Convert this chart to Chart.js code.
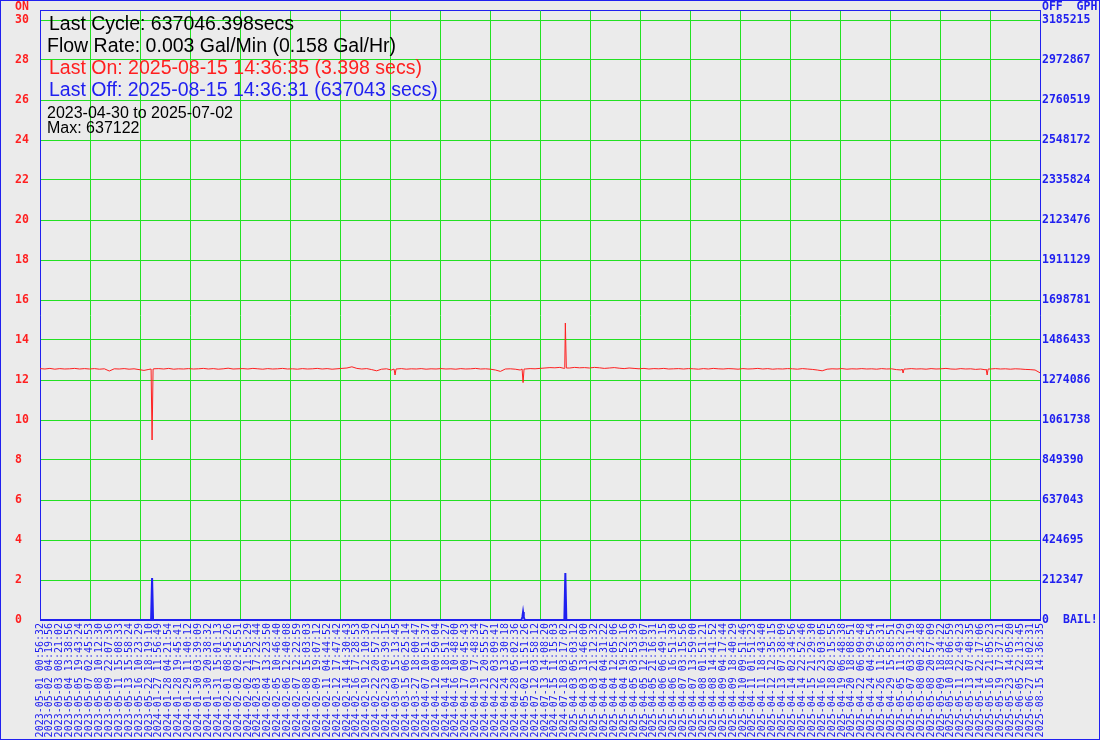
<!DOCTYPE html>
<html>
<head>
<meta charset="utf-8">
<title>Cycle chart</title>
<script src="https://cdn.jsdelivr.net/npm/chart.js@4.4.1/dist/chart.umd.min.js"></script>
<style>
    html, body { margin: 0; padding: 0; background: #ebebeb; }
    canvas { display: block; }
</style>
</head>
<body>
<canvas id="cycleChart" width="1100" height="740"></canvas>
<script>
// x tick labels, one per sample slot
const timeLabels = [
    '2023-05-01 00:56:32', '2023-05-02 04:19:56', '2023-05-03 08:21:02', '2023-05-04 13:38:56',
    '2023-05-05 19:43:24', '2023-05-07 02:45:53', '2023-05-08 10:12:30', '2023-05-09 22:07:36',
    '2023-05-11 15:08:33', '2023-05-13 15:58:24', '2023-05-16 10:23:29', '2023-05-22 18:19:10',
    '2024-01-27 11:56:49', '2024-01-28 04:21:54', '2024-01-28 19:45:41', '2024-01-29 11:40:12',
    '2024-01-30 03:39:09', '2024-01-30 20:38:32', '2024-01-31 15:01:13', '2024-02-01 08:45:26',
    '2024-02-02 02:45:51', '2024-02-02 21:55:29', '2024-02-03 17:22:44', '2024-02-04 13:23:50',
    '2024-02-05 10:46:40', '2024-02-06 12:40:08', '2024-02-07 12:22:59', '2024-02-08 15:03:03',
    '2024-02-09 19:07:12', '2024-02-11 04:44:52', '2024-02-12 17:47:42', '2024-02-14 14:30:43',
    '2024-02-16 17:28:53', '2024-02-19 12:10:30', '2024-02-22 20:57:12', '2024-02-23 09:39:15',
    '2024-03-09 15:13:45', '2024-03-15 06:25:14', '2024-03-27 18:00:47', '2024-04-07 10:51:37',
    '2024-04-12 00:50:04', '2024-04-14 18:51:27', '2024-04-16 10:48:00', '2024-04-17 00:45:43',
    '2024-04-19 17:48:34', '2024-04-21 20:55:57', '2024-04-22 03:09:41', '2024-04-24 13:30:18',
    '2024-04-28 05:02:36', '2024-05-02 11:51:26', '2024-07-12 03:58:12', '2024-07-13 14:08:20',
    '2024-07-15 11:15:03', '2024-07-18 03:17:02', '2025-04-03 05:03:12', '2025-04-03 13:46:00',
    '2025-04-03 21:12:32', '2025-04-04 04:31:22', '2025-04-04 12:05:06', '2025-04-04 19:52:16',
    '2025-04-05 03:53:39', '2025-04-05 12:19:07', '2025-04-05 21:16:31', '2025-04-06 06:49:15',
    '2025-04-06 16:51:30', '2025-04-07 03:15:56', '2025-04-07 13:59:00', '2025-04-08 01:51:21',
    '2025-04-08 14:41:52', '2025-04-09 04:17:44', '2025-04-09 18:40:29', '2025-04-10 09:51:46',
    '2025-04-11 01:51:23', '2025-04-11 18:43:40', '2025-04-12 12:35:15', '2025-04-13 07:38:09',
    '2025-04-14 02:34:56', '2025-04-14 22:52:46', '2025-04-15 21:29:30', '2025-04-16 23:03:05',
    '2025-04-18 02:15:55', '2025-04-19 06:48:38', '2025-04-20 18:08:51', '2025-04-22 06:09:48',
    '2025-04-24 04:39:54', '2025-04-26 11:56:31', '2025-04-29 15:58:51', '2025-05-05 11:53:29',
    '2025-05-07 03:29:19', '2025-05-08 00:23:48', '2025-05-08 20:57:09', '2025-05-09 18:34:22',
    '2025-05-10 18:06:59', '2025-05-11 22:49:23', '2025-05-13 07:40:35', '2025-05-14 22:17:06',
    '2025-05-16 21:05:23', '2025-05-19 17:37:21', '2025-05-23 14:05:20', '2025-06-05 22:13:45',
    '2025-06-27 18:02:31', '2025-08-15 14:36:35'
];

// ON time (secs), sampled every half label slot
const onSecs = [
    12.57, 12.55, 12.58, 12.54, 12.57, 12.55, 12.56, 12.58, 12.55, 12.57,
    12.55, 12.57, 12.54, 12.56, 12.45, 12.56, 12.55, 12.57, 12.54, 12.56,
    12.52, 12.48, 12.53, 12.56, 12.57, 12.55, 12.58, 12.54, 12.56, 12.55,
    12.57, 12.55, 12.56, 12.58, 12.55, 12.57, 12.54, 12.56, 12.59, 12.55,
    12.56, 12.57, 12.55, 12.58, 12.56, 12.54, 12.57, 12.55, 12.56, 12.58,
    12.55, 12.56, 12.54, 12.57, 12.55, 12.56, 12.58, 12.55, 12.57, 12.54,
    12.56, 12.58, 12.60, 12.66, 12.58, 12.55, 12.57, 12.52, 12.46, 12.54,
    12.56, 12.50, 12.55, 12.57, 12.54, 12.56, 12.55, 12.57, 12.54, 12.56,
    12.55, 12.57, 12.55, 12.56, 12.54, 12.57, 12.55, 12.56, 12.58, 12.55,
    12.56, 12.54, 12.50, 12.43, 12.55, 12.56, 12.54, 12.50, 12.55, 12.57,
    12.56, 12.58, 12.60, 12.62, 12.61, 12.63, 12.62, 12.60, 12.63, 12.61,
    12.62, 12.60, 12.63, 12.61, 12.58, 12.60, 12.62, 12.59, 12.57, 12.60,
    12.58, 12.56, 12.58, 12.55, 12.57, 12.56, 12.58, 12.55, 12.56, 12.57,
    12.55, 12.57, 12.56, 12.54, 12.57, 12.55, 12.58, 12.56, 12.55, 12.57,
    12.56, 12.54, 12.57, 12.55, 12.56, 12.58, 12.55, 12.57, 12.54, 12.56,
    12.55, 12.57, 12.56, 12.54, 12.57, 12.55, 12.53, 12.50, 12.46, 12.54,
    12.56, 12.55, 12.57, 12.54, 12.56, 12.55, 12.57, 12.55, 12.56, 12.54,
    12.57, 12.55, 12.56, 12.52, 12.50, 12.55, 12.57, 12.55, 12.56, 12.54,
    12.57, 12.55, 12.56, 12.58, 12.55, 12.54, 12.57, 12.55, 12.56, 12.53,
    12.55, 12.51, 12.55, 12.57, 12.55, 12.56, 12.54, 12.56, 12.55, 12.53,
    12.52, 12.50, 12.36
];

// short ON events (position in label slots, secs)
const onEventPos  = [11.22, 11.32, 11.42, 35.76, 35.86, 35.96, 48.69, 48.79, 48.89, 52.96, 53.06, 53.16, 87.07, 87.17, 87.27, 95.56, 95.66, 95.76];
const onEventSecs = [12.55, 9.0, 12.55, 12.55, 12.25, 12.55, 12.55, 11.87, 12.55, 12.58, 14.85, 12.6, 12.55, 12.35, 12.55, 12.55, 12.25, 12.55];

// OFF time (secs) on the right axis
const offPos  = [0, 11.22, 11.32, 11.42, 48.62, 48.72, 48.79, 48.86, 48.96, 52.96, 53.06, 53.16, 101];
const offSecs = [0, 0, 222965, 0, 0, 16000, 42500, 16000, 0, 0, 249508, 0, 0];

const onTicks = [0, 2, 4, 6, 8, 10, 12, 14, 16, 18, 20, 22, 24, 26, 28, 30];
const offTicks = [0, 212347, 424695, 637043, 849390, 1061738, 1274086, 1486433, 1698781,
    1911129, 2123476, 2335824, 2548172, 2760519, 2972867, 3185215];

const infoLines = [
    { text: 'Last Cycle: 637046.398secs', color: '#000000', big: true },
    { text: 'Flow Rate: 0.003 Gal/Min (0.158 Gal/Hr)', color: '#000000', big: true },
    { text: 'Last On: 2025-08-15 14:36:35 (3.398 secs)', color: '#ff2020', big: true },
    { text: 'Last Off: 2025-08-15 14:36:31 (637043 secs)', color: '#2020f0', big: true },
    { text: '2023-04-30 to 2025-07-02', color: '#000000', big: false },
    { text: 'Max: 637122', color: '#000000', big: false }
];

const RED = '#ff2020';
const BLUE = '#2020f0';
const GREEN = '#22e022';
const MONO_BOLD = 'bold 11.5px "DejaVu Sans Mono"';

function mergePoints(basePos, baseVals, extraPos, extraVals) {
    const pts = basePos.map((x, i) => ({ x: x, y: baseVals[i] }));
    extraPos.forEach((x, i) => pts.push({ x: x, y: extraVals[i] }));
    pts.sort((a, b) => a.x - b.x);
    return pts;
}

const onPoints = mergePoints(onSecs.map((v, i) => i * 0.5), onSecs, onEventPos, onEventSecs);
const offPoints = offPos.map((x, i) => ({ x: x, y: offSecs[i] }));

const decorPlugin = {
    id: 'decor',
    beforeDraw(chart) {
        const ctx = chart.ctx;
        ctx.save();
        ctx.fillStyle = '#ebebeb';
        ctx.fillRect(0, 0, chart.width, chart.height);
        ctx.restore();
    },
    afterDraw(chart) {
        const ctx = chart.ctx;
        const area = chart.chartArea;
        ctx.save();
        // outer frame
        ctx.strokeStyle = BLUE;
        ctx.lineWidth = 1;
        ctx.strokeRect(0.5, 0.5, chart.width - 1, chart.height - 1);

        // axis captions
        ctx.font = MONO_BOLD;
        ctx.textBaseline = 'middle';
        ctx.textAlign = 'left';
        ctx.fillStyle = RED;
        ctx.fillText('ON', 15, 7);
        ctx.fillStyle = BLUE;
        ctx.fillText('OFF  GPH', area.right + 2, 7);
        ctx.fillText('BAIL!', area.right + 23, area.bottom);

        // info text block
        let y = 30;
        infoLines.forEach(function(line, i) {
            ctx.font = line.big ? '19.5px "Liberation Sans"' : '16px "Liberation Sans"';
            ctx.fillStyle = line.color;
            ctx.textBaseline = 'alphabetic';
            ctx.fillText(line.text, i === 1 || !line.big ? 47 : 49, y);
            y += line.big ? 22 : 14.5;
        });
        ctx.restore();
    }
};

const ctx = document.getElementById('cycleChart').getContext('2d');
const cycleChart = new Chart(ctx, {
    type: 'line',
    data: {
        datasets: [
            {
                label: 'ON',
                data: onPoints,
                borderColor: RED,
                borderWidth: 1,
                pointRadius: 0,
                tension: 0,
                xAxisID: 'x',
                yAxisID: 'y'
            },
            {
                label: 'OFF',
                data: offPoints,
                borderColor: BLUE,
                borderWidth: 2,
                pointRadius: 0,
                tension: 0,
                clip: false,
                xAxisID: 'x',
                yAxisID: 'y2'
            }
        ]
    },
    options: {
        responsive: false,
        animation: false,
        devicePixelRatio: 1,
        layout: { padding: { left: 15, top: 10, right: 0, bottom: 0 } },
        plugins: {
            legend: { display: false },
            tooltip: { enabled: false }
        },
        scales: {
            x: {
                type: 'linear',
                position: 'bottom',
                min: 0,
                max: timeLabels.length - 1,
                afterBuildTicks: function(scale) {
                    scale.ticks = timeLabels.map((_, i) => ({ value: i }));
                },
                afterFit: function(scale) { scale.height = 120; },
                grid: { display: false, drawTicks: false },
                border: { display: true, color: BLUE, width: 1 },
                ticks: {
                    autoSkip: false,
                    minRotation: 90,
                    maxRotation: 90,
                    padding: 3,
                    color: BLUE,
                    font: { family: 'DejaVu Sans Mono', size: 10 },
                    callback: function(value) { return timeLabels[value]; }
                }
            },
            x2: {
                type: 'linear',
                position: 'top',
                min: 0,
                max: 20,
                afterFit: function(scale) { scale.height = 0; },
                grid: { color: GREEN, lineWidth: 1, drawTicks: false },
                border: { display: true, color: BLUE, width: 1 },
                ticks: { display: false, stepSize: 1 }
            },
            y: {
                type: 'linear',
                position: 'left',
                min: 0,
                max: 30.5,
                afterBuildTicks: function(scale) {
                    scale.ticks = onTicks.map(v => ({ value: v }));
                },
                afterFit: function(scale) { scale.width = 25; },
                grid: { color: GREEN, lineWidth: 1, drawTicks: false },
                border: { display: true, color: BLUE, width: 1 },
                ticks: {
                    crossAlign: 'far',
                    padding: 0,
                    color: RED,
                    font: { family: 'DejaVu Sans Mono', size: 11.5, weight: 'bold' }
                }
            },
            y2: {
                type: 'linear',
                position: 'right',
                min: 0,
                max: 3185215 * 30.5 / 30,
                afterBuildTicks: function(scale) {
                    scale.ticks = offTicks.map(v => ({ value: v }));
                },
                afterFit: function(scale) { scale.width = 60; },
                grid: { display: false, drawTicks: false },
                border: { display: true, color: BLUE, width: 1 },
                ticks: {
                    padding: 2,
                    color: BLUE,
                    font: { family: 'DejaVu Sans Mono', size: 11.5, weight: 'bold' },
                    callback: function(value) { return String(value); }
                }
            }
        }
    },
    plugins: [decorPlugin]
});
</script>
</body>
</html>
